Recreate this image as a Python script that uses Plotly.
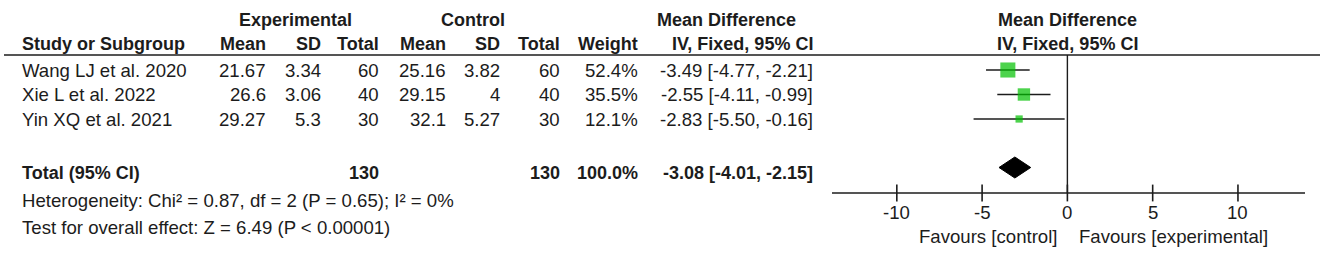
import plotly.graph_objects as go

# ---------------- data ----------------
studies = ["Wang LJ et al. 2020", "Xie L et al. 2022", "Yin XQ et al. 2021"]
exp_mean = [21.67, 26.6, 29.27]
exp_sd = [3.34, 3.06, 5.3]
exp_n = [60, 40, 30]
ctl_mean = [25.16, 29.15, 32.1]
ctl_sd = [3.82, 4, 5.27]
ctl_n = [60, 40, 30]
weight = [52.4, 35.5, 12.1]
md = [-3.49, -2.55, -2.83]
ci_lo = [-4.77, -4.11, -5.50]
ci_hi = [-2.21, -0.99, -0.16]

total_label = "Total (95% CI)"
total_exp_n = 130
total_ctl_n = 130
total_weight = 100.0
total_md = -3.08
total_lo = -4.01
total_hi = -2.15
heterogeneity = "Heterogeneity: Chi² = 0.87, df = 2 (P = 0.65); I² = 0%"
overall = "Test for overall effect: Z = 6.49 (P < 0.00001)"

tick_vals = [-10, -5, 0, 5, 10]
tick_text = ["-10", "-5", "0", "5", "10"]
fav_left = "Favours [control]"
fav_right = "Favours [experimental]"

# ---------------- layout constants ----------------
W, H = 1325, 260
FONT = "Liberation Sans, Arial, sans-serif"
TXT = "#1c1c1c"
GREEN = "#00c000"
FS = 18.6      # regular font size
FSB = 18       # bold font size

ROW0 = 70
ROW_STEP = 24.5
row_y = [ROW0 + ROW_STEP * i for i in range(len(studies))]
HEAD1_Y = 20
HEAD2_Y = 44
RULE_Y = 55
TOTAL_Y = 173
HET_Y = 200
TEST_Y = 227
AXIS_Y = 193
FAV_Y = 236

col_exp_mean = 268
col_exp_sd = 323
col_exp_n = 381
col_ctl_mean = 448
col_ctl_sd = 502
col_ctl_n = 562
col_weight = 640
col_ci = 815
col_study = 20

X_LEFT_PX, X_RIGHT_PX = 832, 1305
X_RANGE = [-13.8, 13.93]


def px(x):
    return x / W


fig = go.Figure()
annotations = []


def txt(x, y, s, anchor="right", bold=False, xref="paper"):
    annotations.append(dict(
        x=px(x) if xref == "paper" else x, y=y, xref=xref, yref="y",
        text=f"<b>{s}</b>" if bold else s, showarrow=False,
        xanchor=anchor, yanchor="middle",
        font=dict(family=FONT, size=FSB if bold else FS, color=TXT),
    ))


def fmt(v):
    return f"{v:g}"


# headers
txt(295, HEAD1_Y, "Experimental", "center", True)
txt(473, HEAD1_Y, "Control", "center", True)
txt(727, HEAD1_Y, "Mean Difference", "center", True)
txt(0, HEAD1_Y, "Mean Difference", "center", True, xref="x")

txt(col_study, HEAD2_Y, "Study or Subgroup", "left", True)
txt(col_exp_mean, HEAD2_Y, "Mean", bold=True)
txt(col_exp_sd, HEAD2_Y, "SD", bold=True)
txt(col_exp_n, HEAD2_Y, "Total", bold=True)
txt(col_ctl_mean, HEAD2_Y, "Mean", bold=True)
txt(col_ctl_sd, HEAD2_Y, "SD", bold=True)
txt(col_ctl_n, HEAD2_Y, "Total", bold=True)
txt(col_weight, HEAD2_Y, "Weight", bold=True)
txt(col_ci, HEAD2_Y, "IV, Fixed, 95% CI", bold=True)
txt(0, HEAD2_Y, "IV, Fixed, 95% CI", "center", True, xref="x")

# study rows
for i, s in enumerate(studies):
    y = row_y[i]
    txt(col_study, y, s, "left")
    txt(col_exp_mean, y, fmt(exp_mean[i]))
    txt(col_exp_sd, y, fmt(exp_sd[i]))
    txt(col_exp_n, y, str(exp_n[i]))
    txt(col_ctl_mean, y, fmt(ctl_mean[i]))
    txt(col_ctl_sd, y, fmt(ctl_sd[i]))
    txt(col_ctl_n, y, str(ctl_n[i]))
    txt(col_weight, y, f"{weight[i]:.1f}%")
    txt(col_ci, y, f"{md[i]:.2f} [{ci_lo[i]:.2f}, {ci_hi[i]:.2f}]")

# total row
txt(col_study, TOTAL_Y, total_label, "left", True)
txt(col_exp_n, TOTAL_Y, str(total_exp_n), bold=True)
txt(col_ctl_n, TOTAL_Y, str(total_ctl_n), bold=True)
txt(col_weight, TOTAL_Y, f"{total_weight:.1f}%", bold=True)
txt(col_ci, TOTAL_Y, f"{total_md:.2f} [{total_lo:.2f}, {total_hi:.2f}]", bold=True)
txt(col_study, HET_Y, heterogeneity, "left")
txt(col_study, TEST_Y, overall, "left")

# favours labels
txt(-0.5, FAV_Y, fav_left, "right", xref="x")
txt(0.55, FAV_Y, fav_right, "left", xref="x")

# tick labels
for v, t in zip(tick_vals, tick_text):
    txt(v, AXIS_Y + 19, t, "center", xref="x")

# CI lines
for i in range(len(studies)):
    fig.add_trace(go.Scatter(
        x=[ci_lo[i], ci_hi[i]], y=[row_y[i], row_y[i]], mode="lines",
        line=dict(color=TXT, width=1.6), hoverinfo="skip", showlegend=False))

# squares
fig.add_trace(go.Scatter(
    x=md, y=row_y, mode="markers",
    marker=dict(symbol="square", color=GREEN,
                size=[2.08 * (w ** 0.5) for w in weight], line=dict(width=0)),
    showlegend=False))

# diamond
DH = 10.5
fig.add_trace(go.Scatter(
    x=[total_lo, total_md, total_hi, total_md, total_lo],
    y=[TOTAL_Y - 5.5, TOTAL_Y - 5.5 - DH, TOTAL_Y - 5.5, TOTAL_Y - 5.5 + DH, TOTAL_Y - 5.5],
    mode="lines", fill="toself", fillcolor="black",
    line=dict(color="black", width=1), showlegend=False))

# tick marks
fig.add_trace(go.Scatter(
    x=tick_vals, y=[AXIS_Y] * len(tick_vals), mode="markers",
    marker=dict(symbol="line-ns", size=12, line=dict(color=TXT, width=1.6)),
    hoverinfo="skip", showlegend=False))

shapes = [
    # header rule
    dict(type="line", xref="paper", yref="y", x0=px(4), x1=px(1320),
         y0=RULE_Y, y1=RULE_Y, line=dict(color=TXT, width=1.6)),
    # zero line
    dict(type="line", xref="x", yref="y", x0=0, x1=0,
         y0=RULE_Y, y1=AXIS_Y, line=dict(color=TXT, width=1.4)),
    # axis line
    dict(type="line", xref="x domain", yref="y", x0=0, x1=1,
         y0=AXIS_Y, y1=AXIS_Y, line=dict(color=TXT, width=1.6)),
]

fig.update_layout(
    width=W, height=H,
    margin=dict(l=0, r=0, t=0, b=0),
    paper_bgcolor="white", plot_bgcolor="white",
    xaxis=dict(domain=[px(X_LEFT_PX), px(X_RIGHT_PX)], range=X_RANGE,
               visible=False, fixedrange=True),
    yaxis=dict(domain=[0, 1], range=[H, 0], visible=False, fixedrange=True),
    annotations=annotations,
    shapes=shapes,
    showlegend=False,
)

fig.write_html("out.html", config={"displayModeBar": False},
               post_script="document.body.style.margin='0';document.body.style.overflow='hidden';")
